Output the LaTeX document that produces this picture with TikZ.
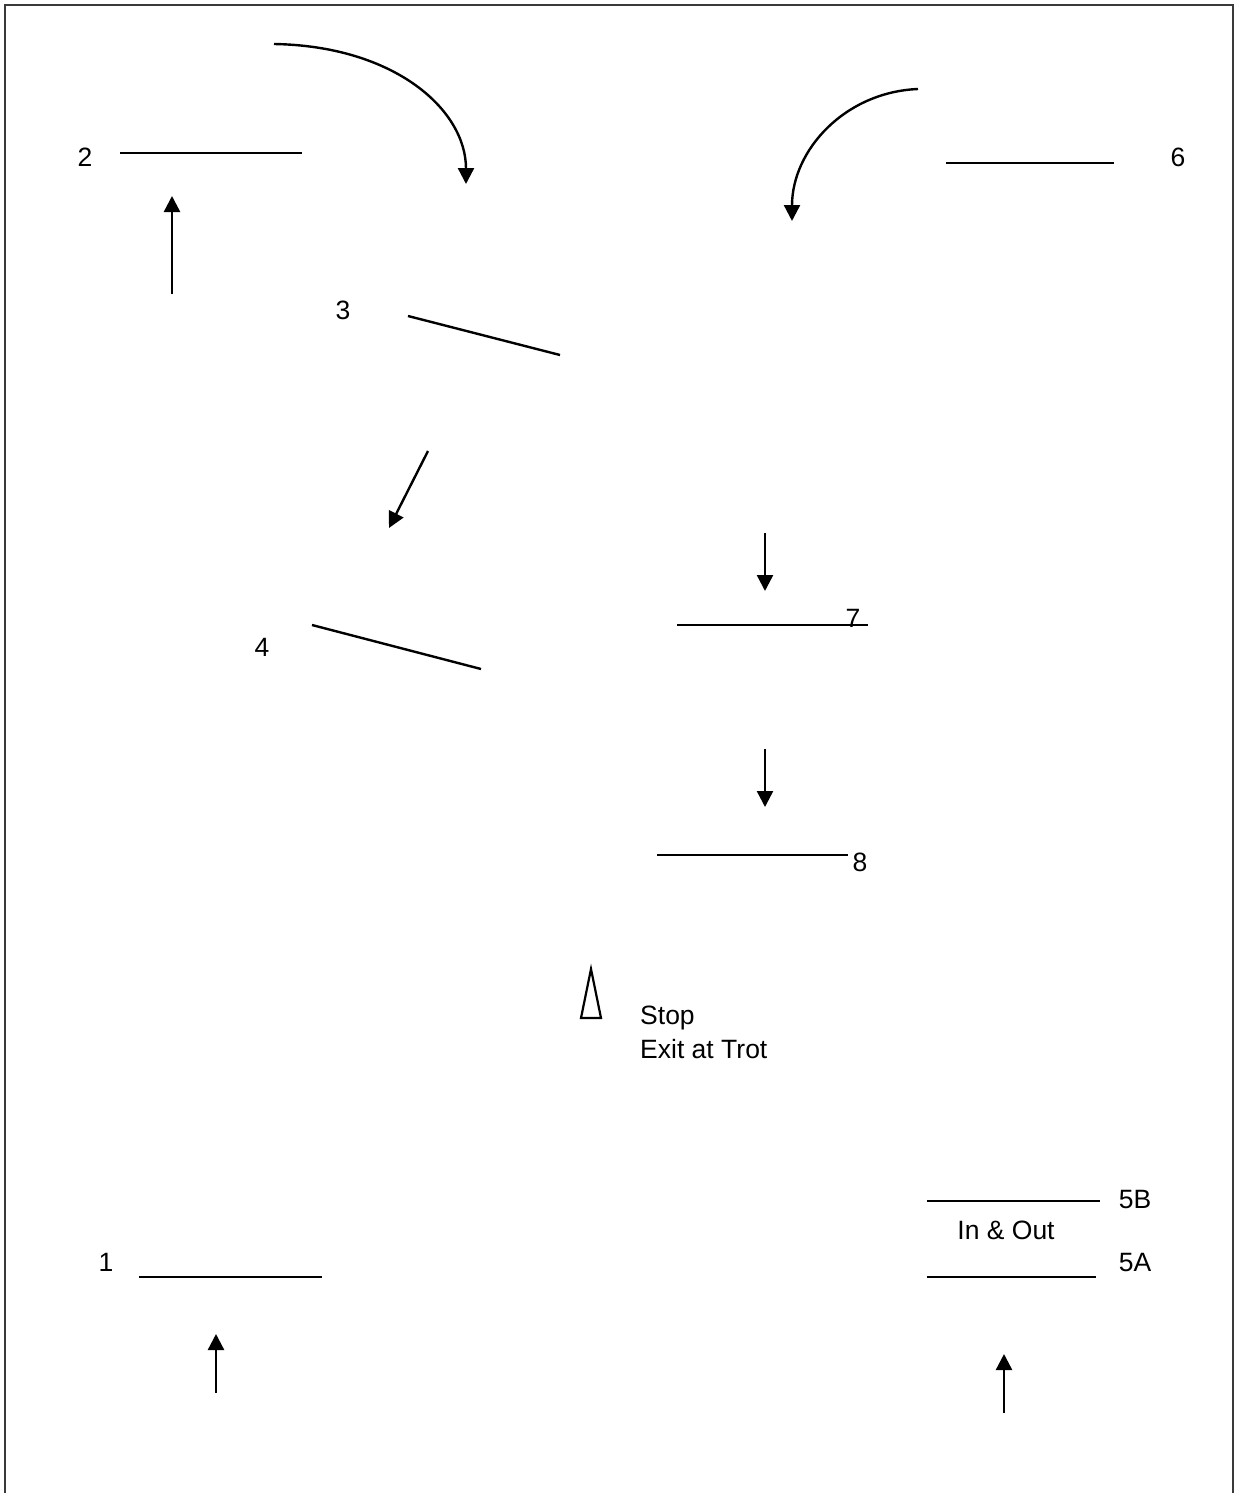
\documentclass[tikz,border=0pt]{standalone}
\usepackage{fontspec}
\setmainfont{Liberation Sans}
\usetikzlibrary{arrows.meta}
\definecolor{frame}{HTML}{3A3A3A}
\tikzset{pole/.style={line width=2.4pt,draw=black},
  move/.style={line width=2.4pt,-{Triangle[length=16pt,width=16pt]}},
  lbl/.style={inner sep=0pt,font=\fontsize{26.5}{31}\selectfont}}

\begin{document}
\begin{tikzpicture}[x=1pt,y=-1pt]
\useasboundingbox (0,0) rectangle (1236,1493);
\draw[frame,line width=2.4pt] (5,1493)--(5,5)--(1233,5)--(1233,1493);
% fences
\node[lbl] (n2) at (85,157) {2};
\draw[pole] (120,153)--(302,153);
\node[lbl] (n3) at (343,310) {3};
\draw[pole] (408,316)--(560,355);
\node[lbl] (n4) at (262,647) {4};
\draw[pole] (312,625)--(481,669);
\draw[pole] (946,163)--(1114,163);
\node[lbl] (n6) at (1178,157) {6};
\draw[pole] (677,625)--(868,625);
\node[lbl,anchor=base] (n7) at (853,627) {7};
\draw[pole] (657,855)--(848,855);
\node[lbl] (n8) at (860,862) {8};
\node[lbl] (n1) at (106,1262) {1};
\draw[pole] (139,1277)--(322,1277);
\draw[pole] (927,1201)--(1100,1201);
\node[lbl] (n5b) at (1135,1199) {5B};
\node[lbl] (inout) at (1006,1230) {In \& Out};
\draw[pole] (927,1277)--(1096,1277);
\node[lbl] (n5a) at (1135,1262) {5A};
% direction
\coordinate (c1) at (274,44); \coordinate (c2) at (466,184);
\draw[move] (c1) .. controls (395,46) and (466,110) .. (c2);
\coordinate (c3) at (918,89); \coordinate (c4) at (792,221);
\draw[move] (c3) .. controls (845,92) and (792,150) .. (c4);
\draw[move] (172,294)--(172,196);
\draw[move] (428,451)--(389,528);
\draw[move] (765,533)--(765,591);
\draw[move] (765,749)--(765,807);
\draw[move] (216,1393)--(216,1334);
\draw[move] (1004,1413)--(1004,1354);
% finish
\draw[line width=2.2pt,line join=miter] (591,969)--(601,1018)--(581,1018)--cycle;
\node[lbl,anchor=base west] (stop) at (640,1024) {Stop};
\node[lbl,anchor=base west] (exit) at (640,1058) {Exit at Trot};
\end{tikzpicture}
\end{document}
